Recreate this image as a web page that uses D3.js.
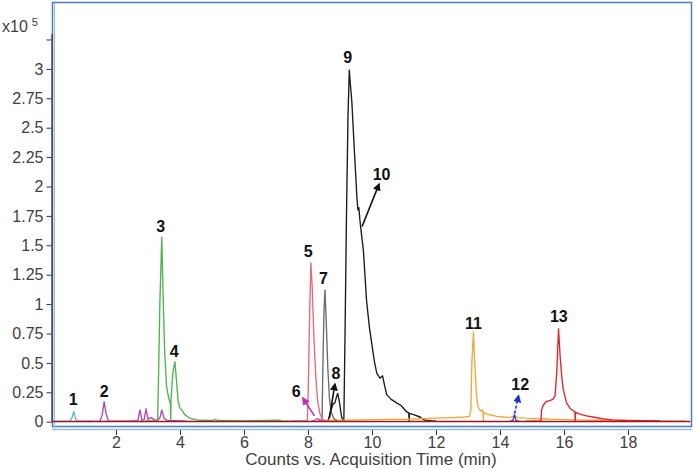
<!DOCTYPE html>
<html>
<head>
<meta charset="utf-8">
<script src="https://cdn.jsdelivr.net/npm/d3@7"></script>
<style>
  body { margin: 0; background: #fff; }
  svg { display: block; font-family: "Liberation Sans", Arial, sans-serif; }
</style>
</head>
<body>
<div class="chart"></div>
<script>
// chromatogram traces, [time (min), counts x10^5]
var trace1 = [[0.1,0.002],[0.55,0.003],[0.62,0.03],[0.68,0.085],[0.73,0.03],[0.78,0.004],[1.2,0.002]];
var trace2 = [[0.8,0.003],[1.5,0.004],[1.57,0.06],[1.63,0.17],[1.69,0.07],[1.76,0.006],[2.4,0.005],[2.68,0.008],[2.75,0.1],[2.81,0.01],[2.88,0.02],[2.94,0.11],[3.0,0.02],[3.05,0.03],[3.1,0.035],[3.18,0.02],[3.3,0.01],[3.38,0.04],[3.43,0.1],[3.5,0.03],[3.6,0.01],[4.2,0.004]];
var trace3 = [[2.9,0.005],[3.3,0.008],[3.33,0.4],[3.37,1.0],[3.43,1.57],[3.47,1.1],[3.52,0.6],[3.58,0.3],[3.64,0.21],[3.7,0.15],[3.71,0.01],[3.72,0.2],[3.78,0.42],[3.84,0.51],[3.89,0.35],[3.94,0.18],[3.99,0.12],[4.05,0.1],[4.15,0.06],[4.25,0.04],[4.35,0.025],[4.45,0.02],[4.6,0.012],[5.0,0.01],[5.1,0.02],[5.2,0.01],[6.0,0.006],[7.1,0.012],[7.2,0.006],[8.0,0.005]];
var trace5 = [[7.5,0.004],[7.98,0.006],[8.01,0.3],[8.05,0.9],[8.09,1.35],[8.13,1.15],[8.18,0.75],[8.24,0.4],[8.3,0.18],[8.37,0.07],[8.45,0.02],[8.6,0.005]];
var trace6 = [[8.1,0.003],[8.2,0.01],[8.28,0.025],[8.36,0.02],[8.42,0.01],[8.5,0.003]];
var trace7 = [[8.3,0.004],[8.44,0.008],[8.46,0.4],[8.5,0.95],[8.53,1.12],[8.57,0.85],[8.62,0.45],[8.67,0.2],[8.72,0.09],[8.8,0.03],[8.9,0.008]];
var trace8 = [[8.55,0.003],[8.63,0.01],[8.7,0.08],[8.78,0.15],[8.84,0.16],[8.9,0.22],[8.93,0.24],[8.98,0.17],[9.05,0.04],[9.1,0.01]];
var trace9 = [[9.05,0.005],[9.12,0.01],[9.16,0.8],[9.2,1.7],[9.25,2.6],[9.29,2.99],[9.33,2.85],[9.37,2.72],[9.45,2.3],[9.53,1.9],[9.56,1.8],[9.59,1.82],[9.62,1.72],[9.66,1.62],[9.73,1.46],[9.83,1.03],[9.92,0.8],[9.99,0.67],[10.07,0.52],[10.15,0.41],[10.25,0.37],[10.33,0.39],[10.4,0.3],[10.46,0.23],[10.6,0.19],[10.77,0.16],[10.9,0.14],[11.08,0.085],[11.15,0.075],[11.16,0.005],[11.17,0.07],[11.3,0.06],[11.5,0.04],[11.6,0.02],[11.7,0.01],[12.0,0.005]];
var trace11 = [[8.6,0.01],[9.5,0.015],[10.5,0.02],[11.0,0.02],[11.5,0.025],[12.0,0.03],[12.5,0.035],[12.9,0.04],[13.05,0.045],[13.09,0.1],[13.12,0.5],[13.17,0.765],[13.21,0.5],[13.26,0.25],[13.31,0.13],[13.35,0.11],[13.4,0.09],[13.45,0.1],[13.47,0.09],[13.48,0.005],[13.49,0.08],[13.6,0.065],[13.75,0.055],[13.9,0.045],[14.1,0.04],[14.3,0.035],[14.4,0.045],[14.47,0.05],[14.55,0.035],[14.8,0.03],[15.2,0.025],[15.8,0.02],[16.4,0.015],[17.0,0.012],[18.0,0.008],[19.8,0.005]];
var trace12 = [[14.3,0.003],[14.4,0.01],[14.45,0.06],[14.5,0.01],[14.6,0.003]];
var trace13 = [[14.8,0.004],[15.28,0.006],[15.3,0.1],[15.35,0.14],[15.44,0.17],[15.55,0.18],[15.65,0.19],[15.72,0.22],[15.77,0.4],[15.83,0.79],[15.88,0.55],[15.93,0.38],[15.98,0.27],[16.08,0.16],[16.2,0.11],[16.34,0.085],[16.35,0.005],[16.36,0.08],[16.5,0.065],[16.7,0.05],[16.9,0.04],[17.2,0.025],[17.5,0.015],[18.0,0.01],[19.0,0.006]];
var baseline = [[0,0.002],[19.95,0.002]];

// peak numbers and where they sit
var peakLabels = ['1','2','3','4','5','6','7','8','9','10','11','12','13'];
var labelTimes = [0.66, 1.63, 3.4, 3.82, 8.01, 7.63, 8.48, 8.87, 9.24, 10.3, 13.17, 14.63, 15.84];
var labelValues = [0.19, 0.26, 1.66, 0.6, 1.45, 0.26, 1.22, 0.41, 3.1, 2.1, 0.84, 0.32, 0.9];

// annotation arrows [t1, v1, t2, v2] (tail -> head)
var arrow6 = [8.2, 0.05, 7.84, 0.2];
var arrow8 = [8.67, 0.03, 8.84, 0.32];
var arrow10 = [9.69, 1.66, 10.22, 2.02];
var arrow12 = [14.46, 0.07, 14.58, 0.22];

var xTicks = [2, 4, 6, 8, 10, 12, 14, 16, 18];
var yTicks = [0, 0.25, 0.5, 0.75, 1, 1.25, 1.5, 1.75, 2, 2.25, 2.5, 2.75, 3, 3.25];

var W = 696, H = 469;
var svg = d3.select('.chart').append('svg').attr('width', W).attr('height', H);

var x = d3.scaleLinear().domain([0, 20]).range([52, 692]);
var y = d3.scaleLinear().domain([0, 3.3]).range([421.7, 33.6]);

// defs for arrow heads
var defs = svg.append('defs');
function head(id, color) {
  defs.append('marker')
    .attr('id', id)
    .attr('viewBox', '0 0 10 10')
    .attr('refX', 8).attr('refY', 5)
    .attr('markerWidth', 5).attr('markerHeight', 5)
    .attr('orient', 'auto')
    .append('path').attr('d', 'M0,0L10,5L0,10z').attr('fill', color);
}
head('hMag', '#c02cc0');
head('hBlk', '#111');
head('hBlu', '#1f2fe0');

// plot frame
svg.append('rect')
  .attr('x', 52.5).attr('y', 2.5).attr('width', 639).attr('height', 424)
  .attr('fill', 'none').attr('stroke', '#4a7ebb').attr('stroke-width', 1.5);
svg.append('line')
  .attr('x1', 52).attr('x2', 692).attr('y1', 429.5).attr('y2', 429.5)
  .attr('stroke', '#9dbde6').attr('stroke-width', 1.5);
svg.append('line')
  .attr('x1', 54.5).attr('x2', 54.5).attr('y1', 3).attr('y2', 429)
  .attr('stroke', '#9dbde6').attr('stroke-width', 1);

// y axis
var yAxis = svg.append('g')
  .attr('transform', 'translate(51.5,0)')
  .call(d3.axisLeft(y).tickValues(yTicks).tickSize(5).tickSizeOuter(0).tickPadding(3)
    .tickFormat(function(d) { return d === 3.25 ? '' : d3.format('~g')(d); }));
yAxis.select('.domain').attr('stroke', '#333').attr('stroke-width', 1.2);
yAxis.selectAll('.tick line').attr('stroke', '#333');
yAxis.selectAll('text').attr('font-size', 16).attr('fill', '#404040')
  .attr('font-family', '"Liberation Sans", Arial, sans-serif');

// x axis
var xAxis = svg.append('g')
  .attr('transform', 'translate(0,430)')
  .call(d3.axisBottom(x).tickValues(xTicks).tickSize(5).tickSizeOuter(0).tickPadding(2));
xAxis.select('.domain').remove();
xAxis.selectAll('.tick line').attr('stroke', '#333');
xAxis.selectAll('text').attr('font-size', 16).attr('fill', '#404040')
  .attr('font-family', '"Liberation Sans", Arial, sans-serif');

svg.append('text')
  .attr('x', 371).attr('y', 465)
  .attr('text-anchor', 'middle')
  .attr('font-size', 17).attr('fill', '#404040')
  .text('Counts vs. Acquisition Time (min)');

var mult = svg.append('text').attr('x', 2).attr('y', 32).attr('font-size', 16).attr('fill', '#404040');
mult.append('tspan').text('x10');
mult.append('tspan').attr('dx', 4).attr('dy', -6).attr('font-size', 11).text('5');

// traces
var line = d3.line()
  .x(function(d) { return x(d[0]); })
  .y(function(d) { return y(d[1]); });

var traces = [
  [trace1, '#59b4e6'],
  [trace2, '#b14ab3'],
  [trace3, '#4cb54c'],
  [trace8, '#1a1a1a'],
  [trace9, '#1a1a1a'],
  [trace11, '#f2a838'],
  [trace12, '#3a40e0'],
  [trace13, '#e8222c'],
  [trace7, '#6a6a6a'],
  [trace5, '#e86a78'],
  [trace6, '#d050d0'],
  [baseline, '#a8141e']
];

svg.append('g').selectAll('path')
  .data(traces)
  .enter().append('path')
    .attr('d', function(d) { return line(d[0]); })
    .attr('fill', 'none')
    .attr('stroke', function(d) { return d[1]; })
    .attr('stroke-width', function(d, i) { return i === traces.length - 1 ? 1.6 : 1.35; })
    .attr('stroke-linejoin', 'round');

// arrows
var arrows = [
  [arrow6, '#c02cc0', 'hMag', null],
  [arrow8, '#111', 'hBlk', null],
  [arrow10, '#111', 'hBlk', null],
  [arrow12, '#1f2fe0', 'hBlu', '3,2']
];
svg.append('g').selectAll('line')
  .data(arrows)
  .enter().append('line')
    .attr('x1', function(d) { return x(d[0][0]); })
    .attr('y1', function(d) { return y(d[0][1]); })
    .attr('x2', function(d) { return x(d[0][2]); })
    .attr('y2', function(d) { return y(d[0][3]); })
    .attr('stroke', function(d) { return d[1]; })
    .attr('stroke-width', 1.6)
    .attr('stroke-dasharray', function(d) { return d[3]; })
    .attr('marker-end', function(d) { return 'url(#' + d[2] + ')'; });

// peak numbers
svg.append('g').selectAll('text')
  .data(peakLabels)
  .enter().append('text')
    .attr('x', function(d, i) { return x(labelTimes[i]); })
    .attr('y', function(d, i) { return y(labelValues[i]); })
    .attr('dy', '0.36em')
    .attr('text-anchor', 'middle')
    .attr('font-size', 16).attr('font-weight', 'bold').attr('fill', '#111')
    .text(function(d) { return d; });
</script>
</body>
</html>
